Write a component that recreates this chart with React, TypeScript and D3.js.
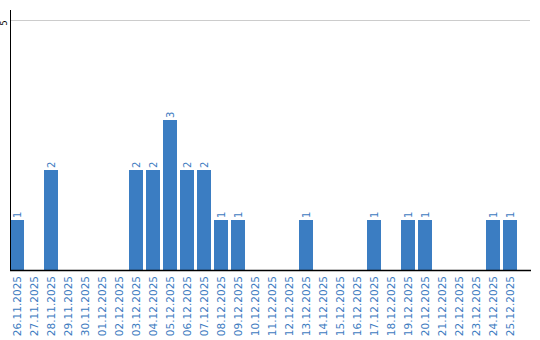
import React from "react";
import * as d3 from "d3";

const dates = [
  "26.11.2025", "27.11.2025", "28.11.2025", "29.11.2025", "30.11.2025",
  "01.12.2025", "02.12.2025", "03.12.2025", "04.12.2025", "05.12.2025",
  "06.12.2025", "07.12.2025", "08.12.2025", "09.12.2025", "10.12.2025",
  "11.12.2025", "12.12.2025", "13.12.2025", "14.12.2025", "15.12.2025",
  "16.12.2025", "17.12.2025", "18.12.2025", "19.12.2025", "20.12.2025",
  "21.12.2025", "22.12.2025", "23.12.2025", "24.12.2025", "25.12.2025",
];
const counts = [1, 0, 2, 0, 0, 0, 0, 2, 2, 3, 2, 2, 1, 1, 0, 0, 0, 1, 0, 0, 0, 1, 0, 1, 1, 0, 0, 0, 1, 1];
const yTicks = [5];

const W = 540;
const H = 340;
const BAR = "#3b7dc2";
const TXT = "#3d7bbf";

export default function App() {
  const x = d3.scaleBand<string>().domain(dates).range([10, 517]).paddingInner(3 / 17).paddingOuter(0);
  const y = d3.scaleLinear().domain([0, 5]).range([270, 20]);
  const font = "'DejaVu Sans', Verdana, sans-serif";
  return (
    <svg width={W} height={H} style={{ position: "absolute", left: 0, top: 0 }} fontFamily={font}>
      {yTicks.map((t) => (
        <g key={t}>
          <line x1={11} x2={530} y1={y(t) + 0.5} y2={y(t) + 0.5} stroke="#cccccc" strokeWidth={1} />
          <text
            transform={`translate(3.8,${y(t) + 3}) rotate(-90)`}
            textAnchor="middle"
            dy="0.35em"
            fontSize={8.5}
            fill="#000"
          >
            {t}
          </text>
        </g>
      ))}
      {dates.map((d, i) =>
        counts[i] > 0 ? (
          <rect key={d} x={x(d)} y={y(counts[i])} width={x.bandwidth()} height={y(0) - y(counts[i])} fill={BAR} />
        ) : null
      )}
      {dates.map((d, i) =>
        counts[i] > 0 ? (
          <text
            key={"v" + d}
            transform={`translate(${(x(d) as number) + x.bandwidth() / 2},${y(counts[i]) - 2}) rotate(-90)`}
            textAnchor="start"
            dy="0.35em"
            fontSize={10}
            fill={TXT}
          >
            {counts[i]}
          </text>
        ) : null
      )}
      <line x1={10.5} x2={10.5} y1={10} y2={270} stroke="#000" strokeWidth={1} />
      <line x1={10} x2={531} y1={270.5} y2={270.5} stroke="#000" strokeWidth={1.5} />
      {dates.map((d) => (
        <text
          key={"l" + d}
          transform={`translate(${(x(d) as number) + x.bandwidth() / 2 + 0.5},276) rotate(-90)`}
          textAnchor="end"
          dy="0.35em"
          fontSize={10.5}
          fill={TXT}
        >
          {d}
        </text>
      ))}
    </svg>
  );
}
